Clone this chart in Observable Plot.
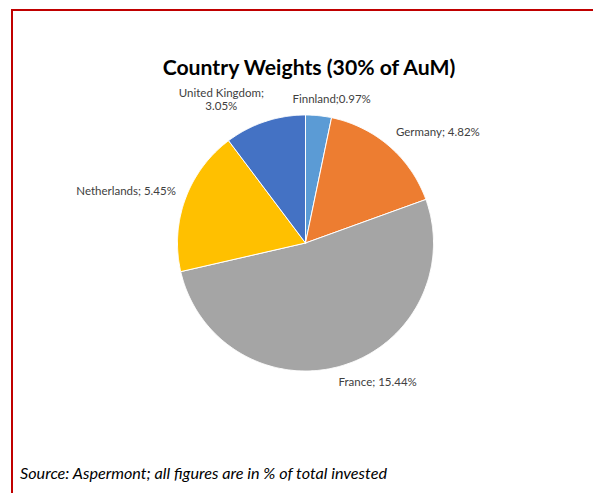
<!DOCTYPE html>
<html><head><meta charset="utf-8">
<script src="https://cdn.jsdelivr.net/npm/d3@7"></script>
<script src="https://cdn.jsdelivr.net/npm/@observablehq/plot@0.6"></script>
<style>
html,body{margin:0;padding:0;background:#fff;}
#frame{position:relative;width:593px;height:493px;overflow:hidden;background:#fff;font-family:Lato,sans-serif;}
#border{position:absolute;left:11px;top:9px;right:-10px;bottom:-10px;border-top:2px solid #C00000;border-left:2px solid #C00000;}
#title{position:absolute;left:0;width:618px;top:55px;text-align:center;font-weight:bold;font-size:21.2px;color:#000;line-height:24px;white-space:nowrap;}
#chart{position:absolute;left:0;top:80px;}
#caption{position:absolute;left:20px;top:464px;font-style:italic;font-size:16.2px;color:#000;line-height:18px;white-space:nowrap;}
</style></head>
<body><div id="frame"><div id="border"></div><div id="title">Country Weights (30% of AuM)</div><div id="chart"></div><div id="caption">Source: Aspermont; all figures are in % of total invested</div></div>
<script>
const countries = ["Finnland", "Germany", "France", "Netherlands", "United Kingdom"];
const weights = [0.97, 4.82, 15.44, 5.45, 3.05];
const separators = [";", "; ", "; ", "; ", ";\n"];
const colors = ["#5B9BD5", "#ED7D31", "#A5A5A5", "#FFC000", "#4472C4"];

const rows = countries.map((c, i) => ({
  country: c, value: weights[i],
  label: c + separators[i] + weights[i].toFixed(2) + "%"
}));

const R = 128, CX = 305, CY = 162.5, W = 593, H = 320;
const FONT_SIZE = 11.5, LINE_H = 13, GAP = 10;

const arcs = d3.pie().sort(null).value(d => d.value).startAngle(0).endAngle(2 * Math.PI)(rows);

const poly = [];
for (const a of arcs) {
  const n = Math.max(2, Math.ceil((a.endAngle - a.startAngle) / (Math.PI / 360)));
  poly.push({country: a.data.country, x: 0, y: 0});
  for (let i = 0; i <= n; i++) {
    const t = a.startAngle + (a.endAngle - a.startAngle) * i / n;
    poly.push({country: a.data.country, x: Math.sin(t), y: Math.cos(t)});
  }
  poly.push({country: a.data.country, x: 0, y: 0});
}

const ctx = document.createElement("canvas").getContext("2d");
ctx.font = FONT_SIZE + "px Lato";
const clamp = v => Math.max(-1, Math.min(1, v));
const labels = arcs.map(a => {
  const lines = a.data.label.split("\n");
  const w = Math.max(...lines.map(l => ctx.measureText(l).width));
  const h = lines.length * LINE_H;
  const m = (a.startAngle + a.endAngle) / 2;
  const s = Math.sin(m), c = Math.cos(m);
  const d = R + GAP;
  const px = s * d + clamp(s * 3) * w / 2;
  const py = c * d + clamp(c * 2) * h / 2;
  return {text: a.data.label, x: px / R, y: py / R};
});

const chart = Plot.plot({
  width: W, height: H, margin: 0,
  x: {domain: [-1, 1], range: [CX - R, CX + R], axis: null},
  y: {domain: [-1, 1], range: [CY + R, CY - R], axis: null},
  color: {domain: countries, range: colors},
  style: {fontFamily: "Lato, sans-serif", fontSize: FONT_SIZE + "px", background: "transparent", overflow: "visible"},
  marks: [
    Plot.line(poly, {x: "x", y: "y", z: "country", fill: "country", stroke: "white", strokeWidth: 1, strokeLinejoin: "round"}),
    Plot.text(labels, {x: "x", y: "y", text: "text", fill: "#404040", textAnchor: "middle", lineAnchor: "middle", lineHeight: LINE_H / FONT_SIZE, fontSize: FONT_SIZE})
  ]
});
document.getElementById("chart").appendChild(chart);
</script>
</body></html>
